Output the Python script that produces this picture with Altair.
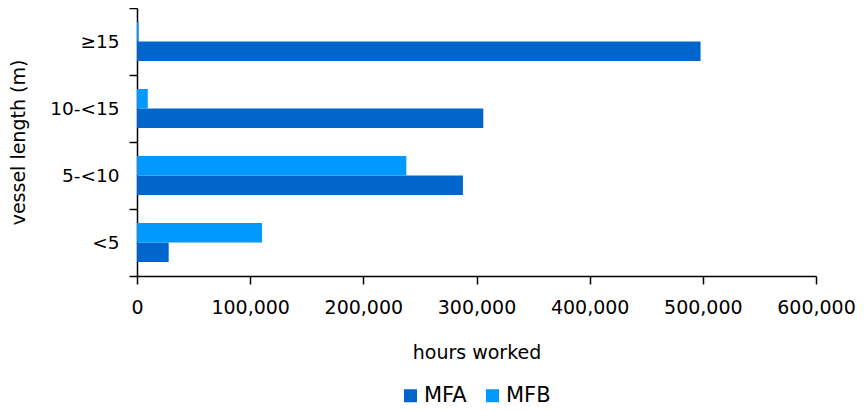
import altair as alt
import pandas as pd

categories = ["≥15", "10-<15", "5-<10", "<5"]
series = ["MFA", "MFB"]
mfa = [498000, 306000, 288000, 28000]
mfb = [1500, 9500, 238000, 110500]
x_ticks = [0, 100000, 200000, 300000, 400000, 500000, 600000]
colors = ["#0066CC", "#0099FF"]

rows = []
for c, a, b in zip(categories, mfa, mfb):
    rows.append({"length": c, "series": "MFA", "hours": a})
    rows.append({"length": c, "series": "MFB", "hours": b})
df = pd.DataFrame(rows)

FONT = "DejaVu Sans"

chart = alt.Chart(df).mark_bar().encode(
    y=alt.Y(
        "length:N",
        sort=categories,
        scale=alt.Scale(paddingInner=0, paddingOuter=0),
        axis=alt.Axis(
            title="vessel length (m)",
            tickBand="extent",
            tickSize=8,
            labelPadding=10,
            labelFontSize=18.5,
            titleFontSize=19,
            titleFontWeight="normal",
            titleX=-119,
            titleY=134,
            titleAlign="center",
            titleBaseline="middle",
        ),
    ),
    yOffset=alt.YOffset(
        "series:N",
        sort=["MFB", "MFA"],
        scale=alt.Scale(paddingInner=0, paddingOuter=0.718),
    ),
    x=alt.X(
        "hours:Q",
        scale=alt.Scale(domain=[0, 600000], nice=False),
        axis=alt.Axis(
            title="hours worked",
            values=x_ticks,
            format=",.0f",
            tickSize=8,
            labelPadding=14,
            labelFontSize=19,
            titleFontSize=19,
            titleFontWeight="normal",
            titleX=339.5,
            titleY=76,
            titleAlign="center",
            titleBaseline="middle",
            labelFlush=False,
        ),
    ),
    color=alt.Color(
        "series:N",
        scale=alt.Scale(domain=series, range=colors),
        legend=alt.Legend(
            title=None,
            orient="none",
            direction="horizontal",
            legendX=263,
            legendY=377,
            symbolType="square",
            symbolSize=169,
            symbolStrokeWidth=0,
            labelFontSize=21,
            labelOffset=3,
            columnPadding=15,
            padding=0,
        ),
    ),
).properties(
    width=679,
    height=268,
    autosize=alt.AutoSizeParams(type="none"),
    padding={"left": 129, "top": 0, "right": 40, "bottom": 130},
).configure_view(
    stroke=None
).configure_axis(
    grid=False,
    domainColor="black",
    domainWidth=1.5,
    tickColor="black",
    tickWidth=1.5,
    labelColor="black",
    titleColor="black",
    labelFont=FONT,
    titleFont=FONT,
).configure_legend(
    labelFont=FONT,
    labelColor="black",
)

chart.save("out.html", embed_options={"renderer": "svg", "actions": False})
